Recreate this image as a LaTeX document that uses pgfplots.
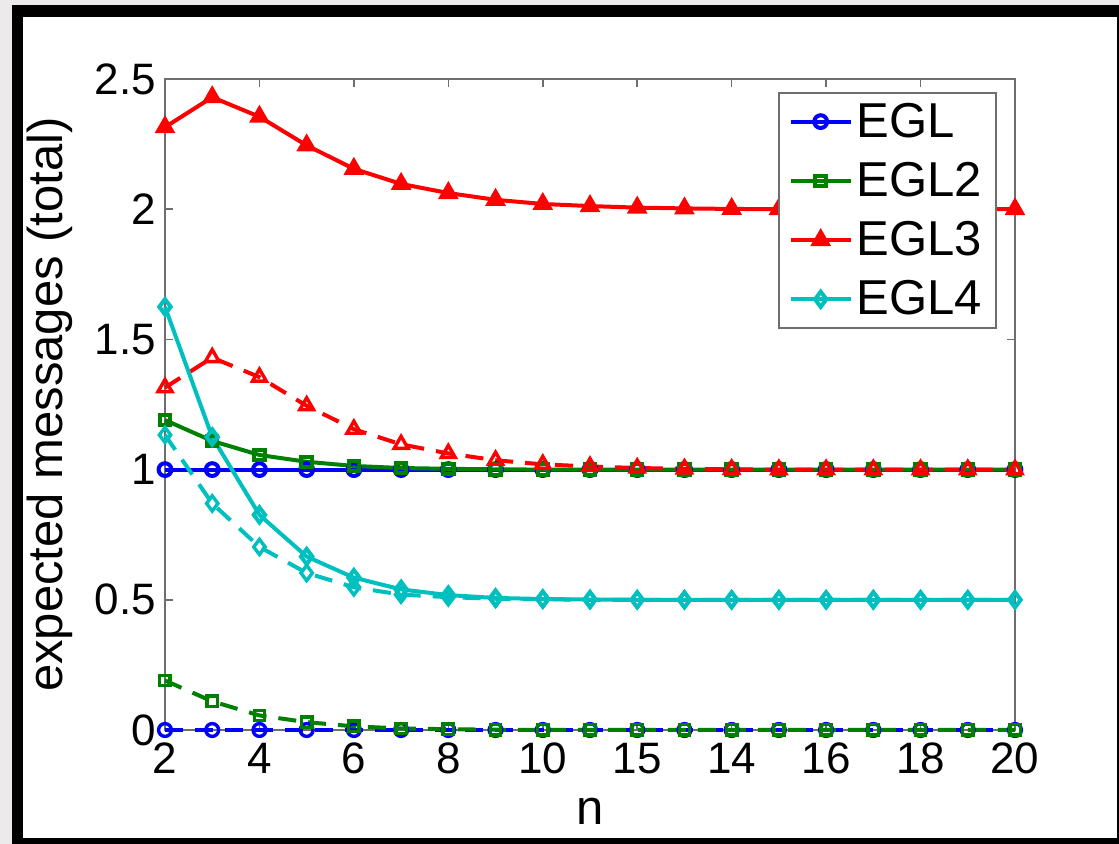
\documentclass[border=0pt]{standalone}
\usepackage{pgfplots}
\pgfplotsset{compat=1.18}
\usepackage{fontspec}
\setmainfont{Liberation Sans}
\definecolor{mblue}{rgb}{0,0,1}
\definecolor{mgreen}{rgb}{0,0.5,0}
\definecolor{mred}{rgb}{1,0,0}
\definecolor{mcyan}{rgb}{0,0.75,0.75}
\definecolor{bggray}{RGB}{236,234,234}
\definecolor{axgray}{RGB}{110,110,110}
\begin{document}
\begin{tikzpicture}
\useasboundingbox (0,0) rectangle (559.5pt,422pt);
\fill[bggray] (0,0) rectangle (559.5pt,422pt);
\fill[black] (6pt,0) rectangle (559.5pt,419.5pt);
\fill[white] (11.5pt,3pt) rectangle (558.5pt,413.5pt);
\begin{axis}[
  at={(82.5pt,57pt)}, anchor=south west,
  scale only axis, width=425pt, height=325.5pt,
  xmin=2, xmax=20, ymin=0, ymax=2.5,
  xtick={2,4,6,8,10,12,14,16,18,20},
  xticklabels={2,4,6,8,10,15,14,16,18,20},
  ytick={0,0.5,1,1.5,2,2.5},
  yticklabels={0,0.5,1,1.5,2,2.5},
  tick align=inside, major tick length=4pt,
  axis line style={axgray, line width=1pt},
  tick style={axgray, line width=0.8pt},
  ticklabel style={font=\fontsize{22}{26}\selectfont},
  xticklabel style={yshift=-3pt},
  yticklabel style={xshift=-1pt},
  xlabel={n}, ylabel={expected messages (total)},
  label style={font=\fontsize{24.5}{28}\selectfont},
  xlabel style={yshift=-5pt},
  ylabel style={yshift=4pt},
  clip=false,
  every axis plot/.append style={line width=2pt},
  dashed plot/.style={dash pattern=on 9pt off 6pt, forget plot, mark options={solid, line width=1.7pt}},
  every mark/.append style={line width=1.7pt, solid},
  legend style={at={(0.9788,0.98)}, anchor=north east, draw=axgray, line width=1pt,
    font=\fontsize{24.5}{29}\selectfont, inner xsep=5pt, inner ysep=3pt, row sep=7pt,
    /tikz/every even column/.append style={column sep=2pt}},
  legend cell align=left,
  legend image code/.code={\draw[mark repeat=2,mark phase=2] plot coordinates {(0pt,0pt) (15pt,0pt) (30pt,0pt)};},
]
% EGL
\addplot[mblue, mark=o, mark size=3.2pt] coordinates {
(2,1)(3,1)(4,1)(5,1)(6,1)(7,1)(8,1)(9,1)(10,1)(11,1)(12,1)(13,1)(14,1)(15,1)(16,1)(17,1)(18,1)(19,1)(20,1)};
\addlegendentry{EGL}
\addplot[mblue, mark=o, mark size=3.2pt, dashed plot] coordinates {
(2,0)(3,0)(4,0)(5,0)(6,0)(7,0)(8,0)(9,0)(10,0)(11,0)(12,0)(13,0)(14,0)(15,0)(16,0)(17,0)(18,0)(19,0)(20,0)};
% EGL2
\addplot[mgreen, mark=square, mark size=2.6pt] coordinates {
(2,1.19)(3,1.11)(4,1.056)(5,1.03)(6,1.014)(7,1.006)(8,1.003)(9,1.001)(10,1)(11,1)(12,1)(13,1)(14,1)(15,1)(16,1)(17,1)(18,1)(19,1)(20,1)};
\addlegendentry{EGL2}
\addplot[mgreen, mark=square, mark size=2.6pt, dashed plot] coordinates {
(2,0.19)(3,0.11)(4,0.056)(5,0.03)(6,0.014)(7,0.006)(8,0.003)(9,0.001)(10,0)(11,0)(12,0)(13,0)(14,0)(15,0)(16,0)(17,0)(18,0)(19,0)(20,0)};
% EGL3
\addplot[mred, mark=triangle*, mark size=4pt] coordinates {
(2,2.315)(3,2.43)(4,2.355)(5,2.245)(6,2.155)(7,2.097)(8,2.062)(9,2.036)(10,2.02)(11,2.012)(12,2.006)(13,2.003)(14,2.001)(15,2)(16,2)(17,2)(18,2)(19,2)(20,2)};
\addlegendentry{EGL3}
\addplot[mred, mark=triangle, mark size=4pt, dashed plot] coordinates {
(2,1.315)(3,1.43)(4,1.355)(5,1.245)(6,1.155)(7,1.097)(8,1.062)(9,1.036)(10,1.02)(11,1.012)(12,1.006)(13,1.003)(14,1.001)(15,1)(16,1)(17,1)(18,1)(19,1)(20,1)};
% EGL4
\addplot[mcyan, mark=diamond, mark size=3.8pt] coordinates {
(2,1.625)(3,1.125)(4,0.826)(5,0.666)(6,0.585)(7,0.54)(8,0.518)(9,0.507)(10,0.503)(11,0.501)(12,0.5)(13,0.5)(14,0.5)(15,0.5)(16,0.5)(17,0.5)(18,0.5)(19,0.5)(20,0.5)};
\addlegendentry{EGL4}
\addplot[mcyan, mark=diamond, mark size=3.8pt, dashed plot] coordinates {
(2,1.133)(3,0.87)(4,0.703)(5,0.603)(6,0.548)(7,0.52)(8,0.51)(9,0.504)(10,0.502)(11,0.5)(12,0.5)(13,0.5)(14,0.5)(15,0.5)(16,0.5)(17,0.5)(18,0.5)(19,0.5)(20,0.5)};
\end{axis}
\end{tikzpicture}
\end{document}
